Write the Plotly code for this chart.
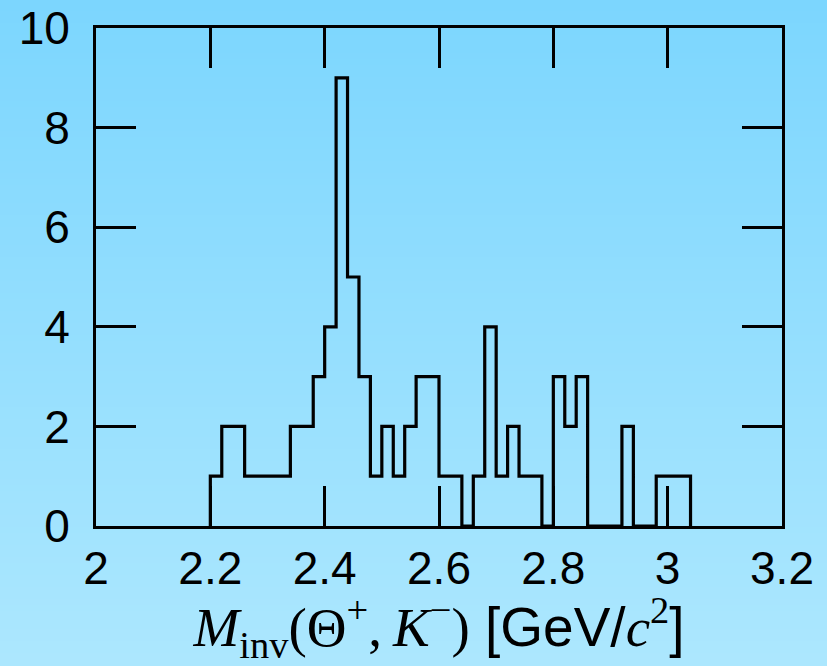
import plotly.graph_objects as go

# ---- data ----
bin_edges = [round(2.20 + 0.02 * i, 2) for i in range(43)]  # 2.20 ... 3.04
counts = [1, 2, 2, 1, 1, 1, 1, 2, 2, 3,
          4, 9, 5, 3, 1, 2, 1, 2, 3, 3,
          1, 1, 0, 1, 4, 1, 2, 1, 1, 0,
          3, 2, 3, 0, 0, 0, 2, 0, 0, 1,
          1, 1]
x_ticks = [2, 2.2, 2.4, 2.6, 2.8, 3, 3.2]
x_ticktext = ["2", "2.2", "2.4", "2.6", "2.8", "3", "3.2"]
y_ticks = [0, 2, 4, 6, 8, 10]

# step outline of the histogram
xs = [bin_edges[0]] + bin_edges[:-1] + [bin_edges[-1], bin_edges[-1]]
ys = [0] + counts + [counts[-1], 0]

W, H = 827, 666
ml, mr, mt, mb = 96, 45, 28, 140
pw, ph = W - ml - mr, H - mt - mb

fig = go.Figure()
fig.add_trace(go.Scatter(x=xs, y=ys, mode="lines", line=dict(shape="hv", color="black", width=3.2),
                         hoverinfo="skip", showlegend=False, cliponaxis=False))

# background vertical gradient as stripes
top = (124, 214, 254)
bot = (172, 231, 254)
n = 111
shapes = []
for i in range(n):
    t = i / (n - 1)
    c = tuple(round(top[k] + (bot[k] - top[k]) * t) for k in range(3))
    y_top_px = i * H / n - 1
    y_bot_px = (i + 1) * H / n + 1
    y0 = (H - mb - y_bot_px) / ph
    y1 = (H - mb - y_top_px) / ph
    shapes.append(dict(type="rect", xref="paper", yref="paper",
                       x0=-ml / pw - 0.01, x1=1 + mr / pw + 0.01, y0=y0, y1=y1,
                       fillcolor="rgb(%d,%d,%d)" % c, line=dict(width=0), layer="below"))

serif = "font-family:'Liberation Serif','Times New Roman',serif"
title = (f"<span style=\"{serif}\"><i>M</i><sub>inv</sub>(Θ<sup>+</sup>,\u2009<i>K</i><sup>−</sup>)</span>"
         f" [GeV/<span style=\"{serif}\"><i>c</i><sup>2</sup></span>]")

fig.update_layout(
    width=W, height=H,
    margin=dict(l=ml, r=mr, t=mt, b=mb, pad=0, autoexpand=False),
    paper_bgcolor="rgba(0,0,0,0)", plot_bgcolor="rgba(0,0,0,0)",
    font=dict(family="Liberation Sans, Arial, Helvetica, sans-serif", color="black", size=46),
    shapes=shapes,
    xaxis=dict(range=[2, 3.2], tickvals=x_ticks, ticktext=x_ticktext, automargin=False,
               ticks="inside", ticklen=40, tickwidth=3, tickcolor="black",
               showline=True, linewidth=3, linecolor="black", mirror="ticks",
               showgrid=False, zeroline=False, tickfont=dict(size=46),
               title=dict(text=title, font=dict(size=55), standoff=19)),
    yaxis=dict(range=[0, 10], tickvals=y_ticks, automargin=False,
               ticks="inside", ticklen=40, tickwidth=3, tickcolor="black",
               showline=True, linewidth=3, linecolor="black", mirror="ticks",
               showgrid=False, zeroline=False, tickfont=dict(size=46),
               ticklabelstandoff=14),
)

fig.write_html("out.html")
